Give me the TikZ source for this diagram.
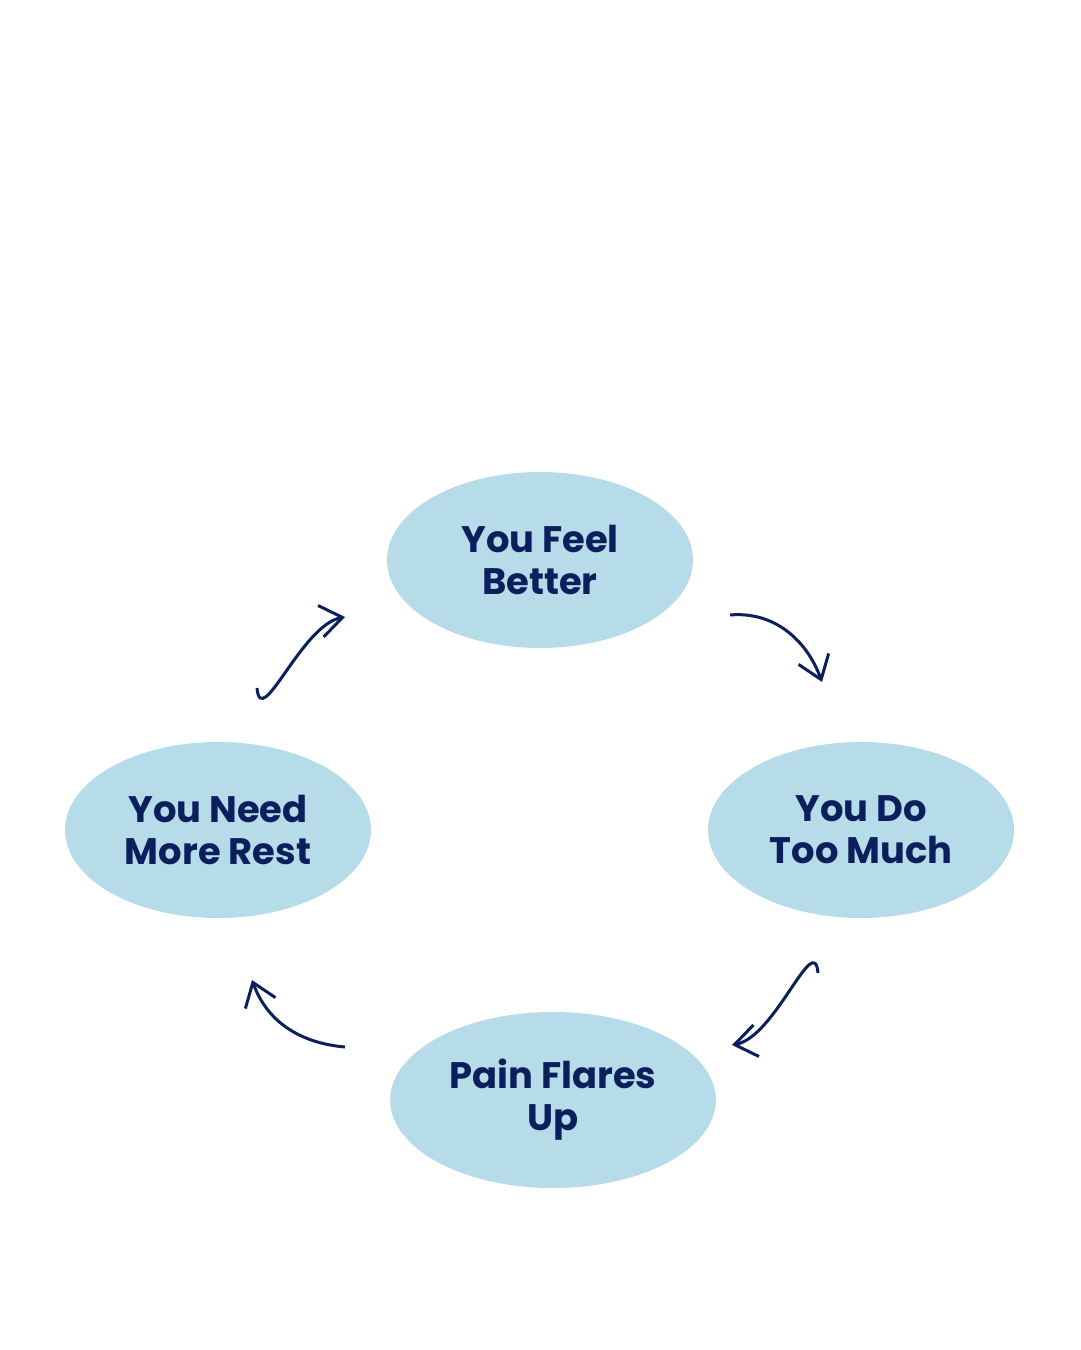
\documentclass[tikz,border=0pt]{standalone}
\usepackage{fontspec}
\setmainfont{Poppins}
\usetikzlibrary{shapes.geometric,positioning,arrows.meta,calc}
\definecolor{bubble}{HTML}{B5DCE8}
\definecolor{navy}{HTML}{0B1F5C}
\begin{document}
\begin{tikzpicture}[x=0.1mm,y=-0.1mm]

    \tikzstyle{phase}=[ellipse, fill=bubble, minimum width=30.6mm, minimum height=17.6mm, align=center, text=navy, font=\fontsize{10.5}{12}\selectfont\bfseries];
    \tikzstyle{loop}=[draw=navy, line width=0.3mm, -{Straight Barb[length=2.2mm,width=3.2mm]}];

    \useasboundingbox (0,0) rectangle (1080,1350);

    \node (better) at (540,560) [phase]{You Feel\\Better};
    \node (much) at (861,830) [phase]{You Do\\Too Much};
    \node (flare) at (553,1100) [phase]{Pain Flares\\Up};
    \node (rest) at (218,830) [phase]{You Need\\More Rest};

    \coordinate (a1) at (730,615);
    \coordinate (a2) at (822,682);
    \coordinate (b1) at (818,973);
    \coordinate (b2) at (732,1045);
    \coordinate (c1) at (345,1047);
    \coordinate (c2) at (252,980);
    \coordinate (d1) at (257,688);
    \coordinate (d2) at (345,617);

    \draw [loop] (a1) to[out=5,in=110] (a2);
    \draw [loop] (b1) to[out=95,in=10] (b2);
    \draw [loop] (c1) to[out=175,in=290] (c2);
    \draw [loop] (d1) to[out=275,in=190] (d2);

\end{tikzpicture}
\end{document}
